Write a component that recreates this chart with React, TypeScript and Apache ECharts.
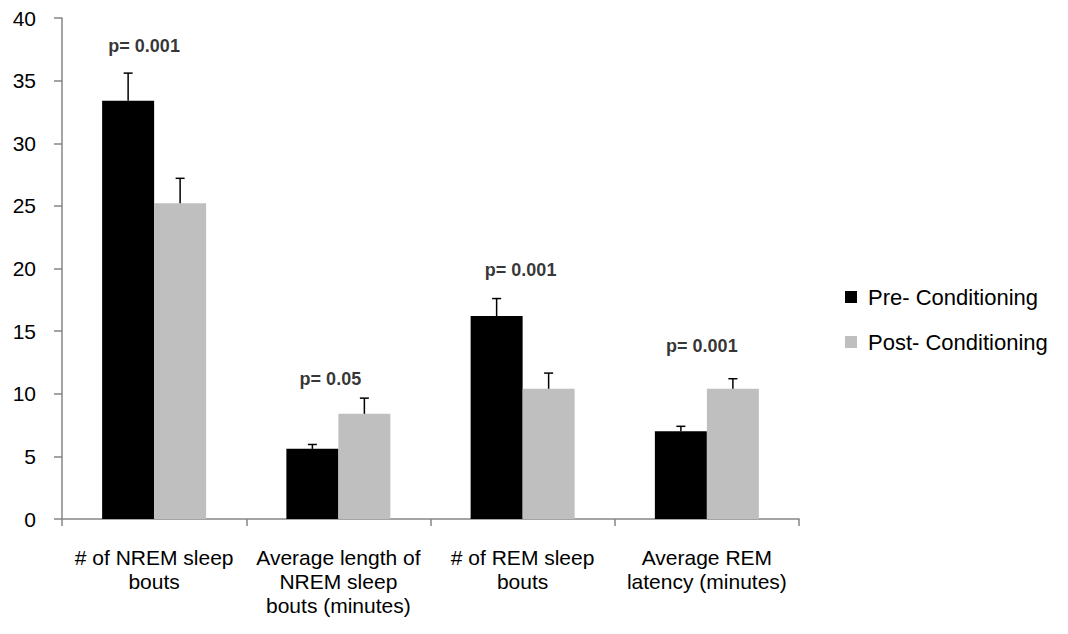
import React, { useEffect, useRef } from "react";
import * as echarts from "echarts";

const categories = [
  "# of NREM sleep\nbouts",
  "Average length of\nNREM sleep\nbouts (minutes)",
  "# of REM sleep\nbouts",
  "Average REM\nlatency (minutes)",
];
const preValues = [33.4, 5.6, 16.2, 7.0];
const preErrors = [2.2, 0.35, 1.4, 0.4];
const postValues = [25.2, 8.4, 10.4, 10.4];
const postErrors = [2.0, 1.25, 1.25, 0.8];
const pLabels = ["p= 0.001", "p= 0.05", "p= 0.001", "p= 0.001"];
const pLabelLevels = [37.8, 11.2, 19.9, 13.8];
const pLabelShift = [-10, -8, -2, -5];

const FONT = "'Liberation Sans', Arial, sans-serif";
const BAR_W = 52;

export default function App() {
  const ref = useRef<HTMLDivElement>(null);
  useEffect(() => {
    const chart = echarts.init(ref.current!, null, { renderer: "svg" });
    const errSeries = (vals: number[], errs: number[], side: number) => ({
      type: "custom",
      silent: true,
      z: 5,
      data: vals.map((v, i) => [i, v, v + errs[i]]),
      renderItem: (params: any, api: any) => {
        const i = api.value(0);
        const lo = api.coord([i, api.value(1)]);
        const hi = api.coord([i, api.value(2)]);
        const x = lo[0] + side * (BAR_W / 2);
        const cap = 4.5;
        return {
          type: "group",
          children: [
            { type: "line", shape: { x1: x, y1: lo[1], x2: x, y2: hi[1] }, style: { stroke: "#000", lineWidth: 1.5 } },
            { type: "line", shape: { x1: x - cap, y1: hi[1], x2: x + cap, y2: hi[1] }, style: { stroke: "#000", lineWidth: 1.5 } },
          ],
        };
      },
    });
    chart.setOption({
      animation: false,
      textStyle: { fontFamily: FONT },
      grid: { left: 62, right: 269, top: 18, bottom: 115, containLabel: false },
      legend: {
        data: ["Pre- Conditioning", "Post- Conditioning"],
        orient: "vertical",
        left: 840,
        top: 281,
        itemWidth: 12,
        itemHeight: 12,
        itemGap: 23,
        icon: "rect",
        textStyle: { fontSize: 22, color: "#000", fontFamily: FONT, padding: [0, 0, 0, 6] },
      },
      xAxis: {
        type: "category",
        data: categories,
        axisLine: { lineStyle: { color: "#868686", width: 1.5 } },
        axisTick: { show: true, length: 7, lineStyle: { color: "#868686", width: 1.5 } },
        axisLabel: { color: "#000", fontSize: 21, lineHeight: 24, margin: 26, interval: 0, fontFamily: FONT },
      },
      yAxis: {
        type: "value",
        min: 0,
        max: 40,
        interval: 5,
        splitLine: { show: false },
        axisLine: { show: true, lineStyle: { color: "#868686", width: 1.5 } },
        axisTick: { show: true, length: 8, lineStyle: { color: "#868686", width: 1.5 } },
        axisLabel: { color: "#000", fontSize: 21, margin: 26, fontFamily: FONT },
      },
      series: [
        {
          name: "Pre- Conditioning",
          type: "bar",
          data: preValues,
          barWidth: BAR_W,
          barGap: "0%",
          itemStyle: { color: "#000000" },
        },
        {
          name: "Post- Conditioning",
          type: "bar",
          data: postValues,
          barWidth: BAR_W,
          itemStyle: { color: "#bfbfbf" },
        },
        errSeries(preValues, preErrors, -1),
        errSeries(postValues, postErrors, 1),
        {
          type: "scatter",
          silent: true,
          symbolSize: 0,
          z: 6,
          data: pLabelLevels.map((v, i) => ({
            value: [i, v],
            label: {
              show: true,
              position: "inside",
              formatter: pLabels[i],
              offset: [pLabelShift[i], 0],
              fontSize: 18,
              fontWeight: "bold",
              color: "#000",
              fontFamily: FONT,
            },
          })),
        },
      ],
    });
    return () => chart.dispose();
  }, []);
  return <div ref={ref} style={{ position: "absolute", left: 0, top: 0, width: 1068, height: 634 }} />;
}
